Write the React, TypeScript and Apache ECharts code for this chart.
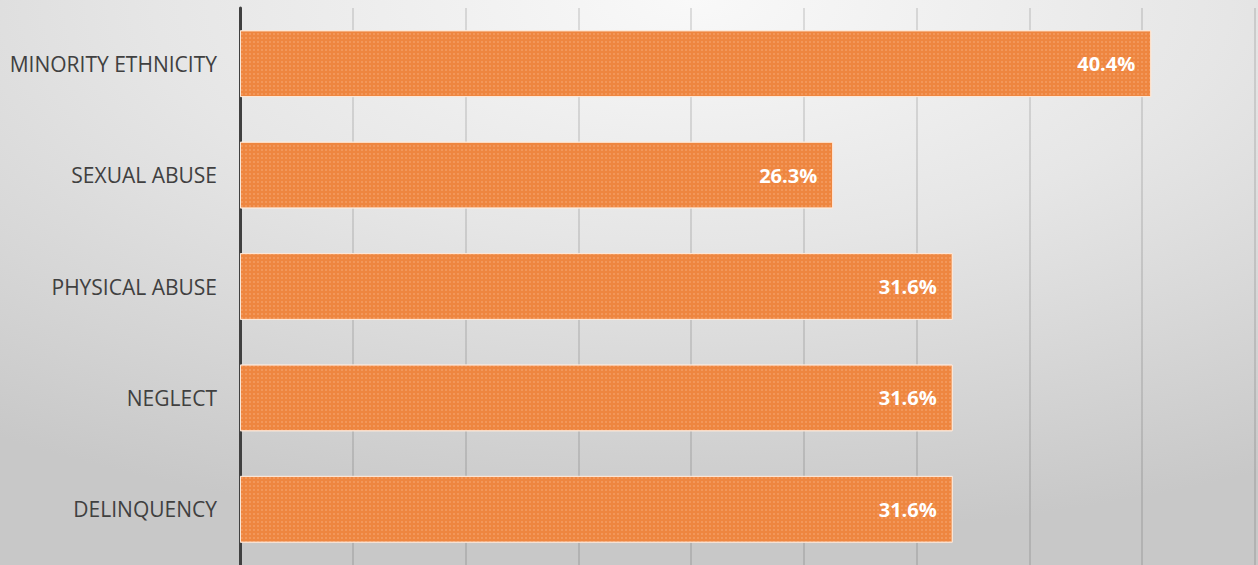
import React, { useEffect, useRef } from "react";
import * as echarts from "echarts";

const categories = ["MINORITY ETHNICITY", "SEXUAL ABUSE", "PHYSICAL ABUSE", "NEGLECT", "DELINQUENCY"];
const values = [40.4, 26.3, 31.6, 31.6, 31.6];
const axisMax = 45;
const axisInterval = 5;

export default function App() {
  const ref = useRef<HTMLDivElement>(null);
  useEffect(() => {
    const chart = echarts.init(ref.current!, null, { renderer: "svg" });
    chart.setOption({
      animation: false,
      aria: { enabled: false, decal: { show: true } },
      graphic: [
        {
          type: "rect",
          z: -100,
          silent: true,
          shape: { x: 0, y: 0, width: 1258, height: 565 },
          style: {
            fill: new echarts.graphic.RadialGradient(0.55, 0.0, 0.95, [
              { offset: 0, color: "#f9f9f9" },
              { offset: 0.45, color: "#e6e6e6" },
              { offset: 1, color: "#c8c8c8" },
            ]),
          },
        },
      ],
      grid: { left: 240, right: 3, top: 8, bottom: 0, containLabel: false },
      xAxis: {
        type: "value",
        min: 0,
        max: axisMax,
        interval: axisInterval,
        axisLabel: { show: false },
        axisLine: { show: false },
        axisTick: { show: false },
        splitLine: { show: true, lineStyle: { color: "rgba(0,0,0,0.11)", width: 2 } },
      },
      yAxis: {
        type: "category",
        inverse: true,
        data: categories,
        axisLine: { show: true, lineStyle: { color: "#404040", width: 3 } },
        axisTick: { show: false },
        axisLabel: {
          color: "#404040",
          fontFamily: "Open Sans",
          fontSize: 21,
          margin: 23,
        },
      },
      series: [
        {
          type: "bar",
          data: values,
          barCategoryGap: "40%",
          itemStyle: {
            color: "#ee8640",
            borderColor: "rgba(255,235,220,0.8)",
            borderWidth: 1,
            decal: {
              symbol: "rect",
              symbolSize: 0.35,
              color: "rgba(255,205,170,0.45)",
              dashArrayX: [[4, 0]],
              dashArrayY: [4, 0],
              rotation: 0,
            },
          },
          label: {
            show: true,
            position: "insideRight",
            distance: 16,
            color: "#ffffff",
            fontFamily: "Open Sans",
            fontWeight: "bold",
            fontSize: 20,
            formatter: (p: any) => p.value.toFixed(1) + "%",
          },
        },
      ],
    });
    return () => chart.dispose();
  }, []);
  return <div ref={ref} style={{ width: 1258, height: 565, position: "absolute", left: 0, top: 0 }} />;
}
